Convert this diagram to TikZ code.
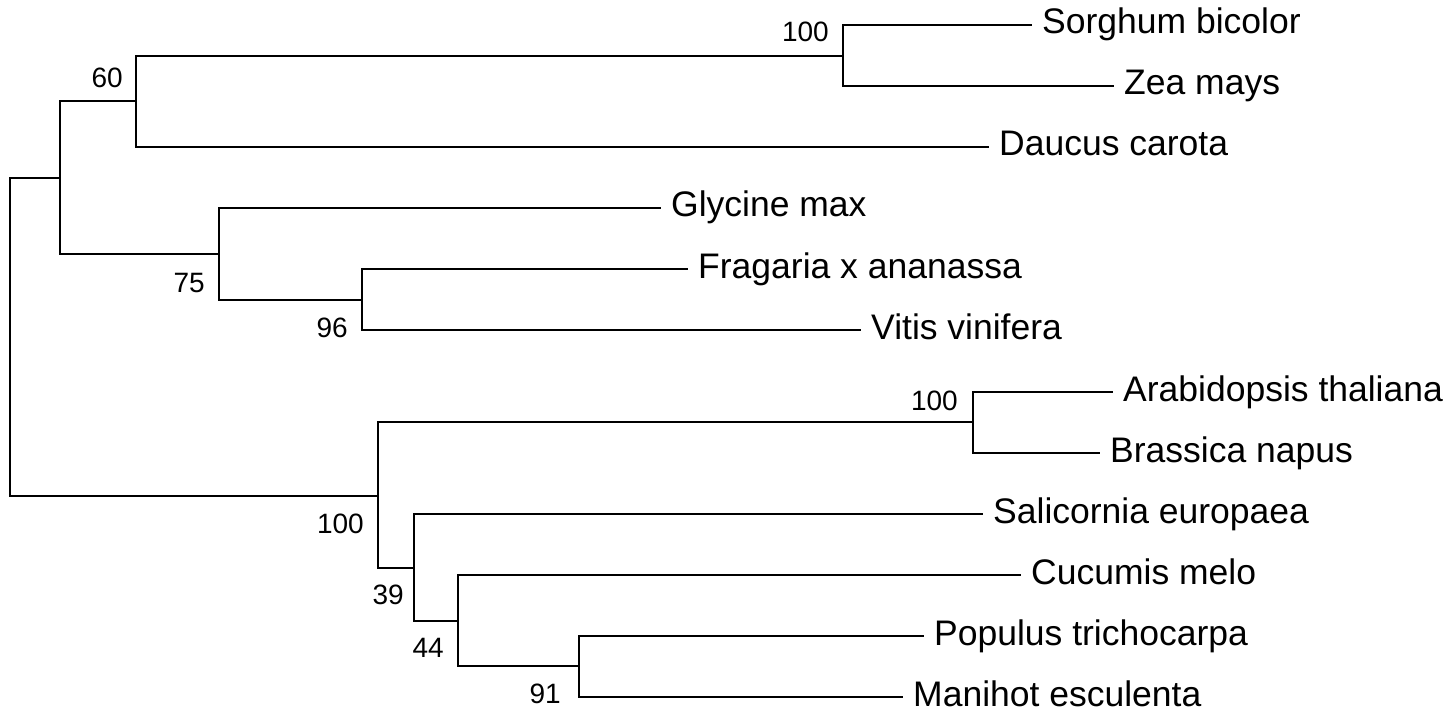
\documentclass[tikz,border=0pt]{standalone}
\usepackage{fontspec}
\setmainfont{Liberation Sans}
\begin{document}
\begin{tikzpicture}[x=1pt,y=-1pt,
  branch/.style={draw=black,line width=1.8pt,line cap=rect},
  leaf/.style={anchor=base west,inner sep=0pt,xshift=11pt,yshift=-9pt,font=\fontsize{35.5}{40}\selectfont},
  boot/.style={anchor=base east,inner sep=0pt,font=\fontsize{28}{32}\selectfont}]
\useasboundingbox (0,0) rectangle (1450,711);
% internal nodes
\coordinate (r) at (10,337);
\coordinate (A) at (60,178);
\coordinate (n60) at (136,101);
\coordinate (n100a) at (843,56);
\coordinate (n75) at (219,254);
\coordinate (n96) at (362,300);
\coordinate (B) at (378,496);
\coordinate (n100b) at (973,422);
\coordinate (n39) at (414,568);
\coordinate (n44) at (458,621);
\coordinate (n91) at (579,666);
% leaf ends
\coordinate (sor) at (1031,25);
\coordinate (zea) at (1113,86);
\coordinate (dau) at (988,147);
\coordinate (gly) at (660,208);
\coordinate (fra) at (687,269);
\coordinate (vit) at (860,330);
\coordinate (ara) at (1112,392);
\coordinate (bra) at (1099,453);
\coordinate (sal) at (982,514);
\coordinate (cuc) at (1020,575);
\coordinate (pop) at (923,636);
\coordinate (man) at (902,697);
% branches: (upper child) -| (parent) |- (lower child)
\draw[branch] (A) -| (r) |- (B);
\draw[branch] (n60) -| (A) |- (n75);
\draw[branch] (n100a) -| (n60) |- (dau);
\draw[branch] (sor) -| (n100a) |- (zea);
\draw[branch] (gly) -| (n75) |- (n96);
\draw[branch] (fra) -| (n96) |- (vit);
\draw[branch] (n100b) -| (B) |- (n39);
\draw[branch] (ara) -| (n100b) |- (bra);
\draw[branch] (sal) -| (n39) |- (n44);
\draw[branch] (cuc) -| (n44) |- (n91);
\draw[branch] (pop) -| (n91) |- (man);
% leaf labels
\node[leaf] (Lsor) at (sor) {Sorghum bicolor};
\node[leaf] (Lzea) at (zea) {Zea mays};
\node[leaf] (Ldau) at (dau) {Daucus carota};
\node[leaf] (Lgly) at (gly) {Glycine max};
\node[leaf] (Lfra) at (fra) {Fragaria x ananassa};
\node[leaf] (Lvit) at (vit) {Vitis vinifera};
\node[leaf] (Lara) at (ara) {Arabidopsis thaliana};
\node[leaf] (Lbra) at (bra) {Brassica napus};
\node[leaf] (Lsal) at (sal) {Salicornia europaea};
\node[leaf] (Lcuc) at (cuc) {Cucumis melo};
\node[leaf] (Lpop) at (pop) {Populus trichocarpa};
\node[leaf] (Lman) at (man) {Manihot esculenta};
% bootstrap values
\node[boot] (b100a) at (829,42) {100};
\node[boot] (b60) at (123,88) {60};
\node[boot] (b75) at (205,292) {75};
\node[boot] (b96) at (348,337) {96};
\node[boot] (b100b) at (958,410) {100};
\node[boot] (b100c) at (364,533) {100};
\node[boot] (b39) at (404,604) {39};
\node[boot] (b44) at (444,657) {44};
\node[boot] (b91) at (561,703) {91};
\end{tikzpicture}
\end{document}
